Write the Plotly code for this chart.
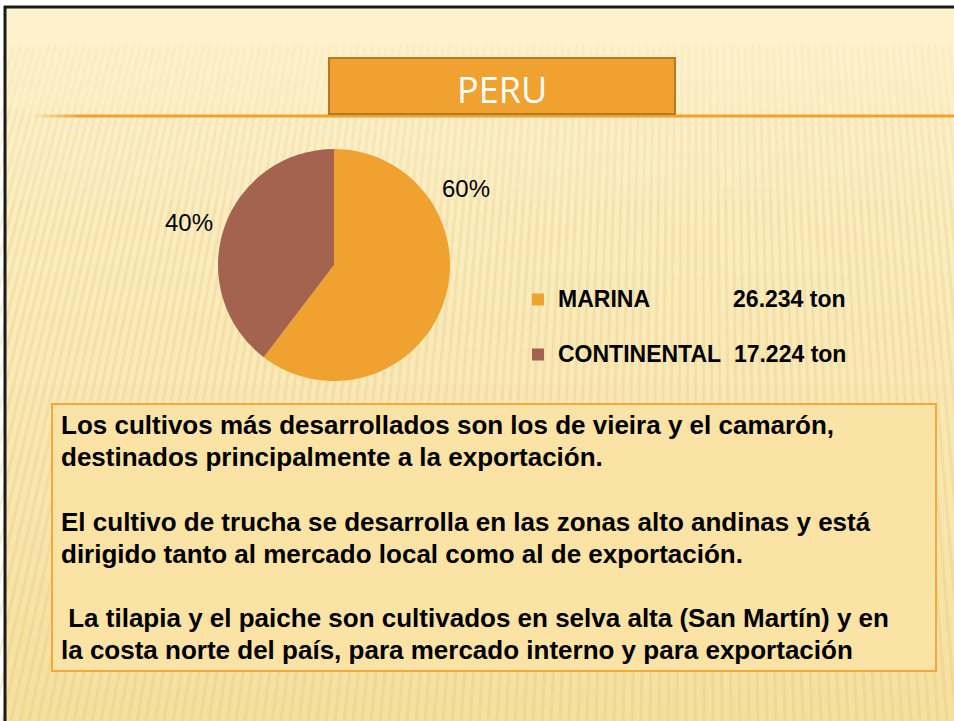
import plotly.graph_objects as go

# datos
categorias = ["MARINA", "CONTINENTAL"]
toneladas = [26234, 17224]
colores = ["#EFA22F", "#A3634E"]
separacion = [13, 2]  # espacios entre nombre y valor en la leyenda

titulo = "PERU"
lineas_texto = [
    "Los cultivos más desarrollados son los de vieira y el camarón,",
    "destinados principalmente a la exportación.",
    "",
    "El cultivo de trucha se desarrolla en las zonas alto andinas y está",
    "dirigido tanto al mercado local como al de exportación.",
    "",
    "\u00a0La tilapia y el paiche son cultivados en selva alta (San Martín) y en",
    "la costa norte del país, para mercado interno y para exportación",
]

W, H = 954, 721


def fmt_ton(v):
    return f"{v:,}".replace(",", ".") + " ton"


def mezcla(c1, c2, t):
    return "rgb(%d,%d,%d)" % tuple(round(a + (b - a) * t) for a, b in zip(c1, c2))


fig = go.Figure()

# rayas del fondo (tenues arriba, mas marcadas abajo)
tramos = [(45, 110, 0.07), (110, 200, 0.13), (200, H, 0.18)]
for ya, yb, op in tramos:
    sx, sy = [], []
    for b in range(-250, 1250, 9):
        xa = b + (700 - b) * 0.22 * (H - ya) / (H - 40)
        xb = b + (700 - b) * 0.22 * (H - yb) / (H - 40)
        sx += [xa, xb, None]
        sy += [ya, yb, None]
    fig.add_trace(go.Scatter(
        x=sx, y=sy, mode="lines",
        line=dict(color="rgba(214,180,90,%.2f)" % op, width=3),
        hoverinfo="skip", showlegend=False
    ))

# grafico circular
etiquetas = [
    '<span style="font-size:23px">' + n + "\u00a0" * s + fmt_ton(v) + "</span><br>\u00a0"
    for n, s, v in zip(categorias, separacion, toneladas)
]
fig.add_trace(go.Pie(
    labels=etiquetas,
    values=toneladas,
    marker=dict(colors=colores, line=dict(width=0)),
    sort=False,
    direction="clockwise",
    rotation=0,
    textinfo="none",
    hoverinfo="percent",
    domain=dict(x=[218 / W, 450 / W], y=[1 - 381 / H, 1 - 149 / H]),
))

shapes = []
# degradado de fondo
c_top, c_bot = (253, 242, 205), (246, 224, 160)
n = 40
for i in range(n):
    y0 = 8 + (H - 8) * i / n
    y1 = 8 + (H - 8) * (i + 1) / n + 1
    shapes.append(dict(type="rect", xref="x", yref="y", x0=6, x1=W, y0=y0, y1=y1,
                       fillcolor=mezcla(c_top, c_bot, i / (n - 1)), line=dict(width=0),
                       layer="below"))

# borde de la diapositiva
shapes.append(dict(type="line", xref="x", yref="y", x0=4, x1=W, y0=7, y1=7,
                   line=dict(color="#1a1a1a", width=3)))
shapes.append(dict(type="line", xref="x", yref="y", x0=5, x1=5, y0=6, y1=H,
                   line=dict(color="#1a1a1a", width=3)))

# linea naranja bajo el titulo
for k in range(8):
    shapes.append(dict(type="line", xref="x", yref="y", x0=35 + k * 5, x1=40 + k * 5,
                       y0=116, y1=116,
                       line=dict(color="rgba(239,162,47,%.2f)" % (0.15 + k * 0.1), width=3)))
shapes.append(dict(type="line", xref="x", yref="y", x0=75, x1=W, y0=116, y1=116,
                   line=dict(color="#EFA22F", width=3)))

# caja del titulo
shapes.append(dict(type="rect", xref="x", yref="y", x0=329, x1=675, y0=58, y1=114,
                   fillcolor="#EFA22F", line=dict(color="#B57A28", width=2)))

# caja de texto
shapes.append(dict(type="rect", xref="x", yref="y", x0=52, x1=936, y0=404, y1=671,
                   fillcolor="#FAE3A4", line=dict(color="#F2A83A", width=2)))

annotations = [
    dict(x=502, y=89, xref="x", yref="y", text=titulo, showarrow=False,
         font=dict(family="Open Sans", size=36, color="white"))
]

# porcentajes
total = sum(toneladas)
pos_pct = [(466, 188), (189, 222)]
for v, (px, py) in zip(toneladas, pos_pct):
    annotations.append(dict(x=px, y=py, xref="x", yref="y", text=f"{round(100 * v / total)}%",
                            showarrow=False,
                            font=dict(family="Liberation Sans, Arial", size=24, color="black")))

# texto del recuadro
y_ini, paso = 425, 32.2
for i, linea in enumerate(lineas_texto):
    if not linea:
        continue
    annotations.append(dict(x=59, y=y_ini + i * paso, xref="x", yref="y", text=linea,
                            showarrow=False, xanchor="left", yanchor="middle",
                            font=dict(family="Liberation Sans, Arial", size=26,
                                      color="black", weight="bold")))

fig.update_layout(
    width=W, height=H,
    margin=dict(l=0, r=0, t=0, b=0),
    paper_bgcolor="white",
    plot_bgcolor="rgba(0,0,0,0)",
    xaxis=dict(range=[0, W], visible=False, fixedrange=True),
    yaxis=dict(range=[H, 0], visible=False, fixedrange=True),
    shapes=shapes,
    annotations=annotations,
    showlegend=True,
    legend=dict(x=518 / W, y=1 - 280 / H, xanchor="left", yanchor="top",
                bgcolor="rgba(0,0,0,0)", valign="top",
                font=dict(family="Liberation Sans, Arial", size=20, color="black",
                          weight="bold")),
)

fig.write_html("out.html", config={"displayModeBar": False},
               post_script="document.body.style.margin='0';")
